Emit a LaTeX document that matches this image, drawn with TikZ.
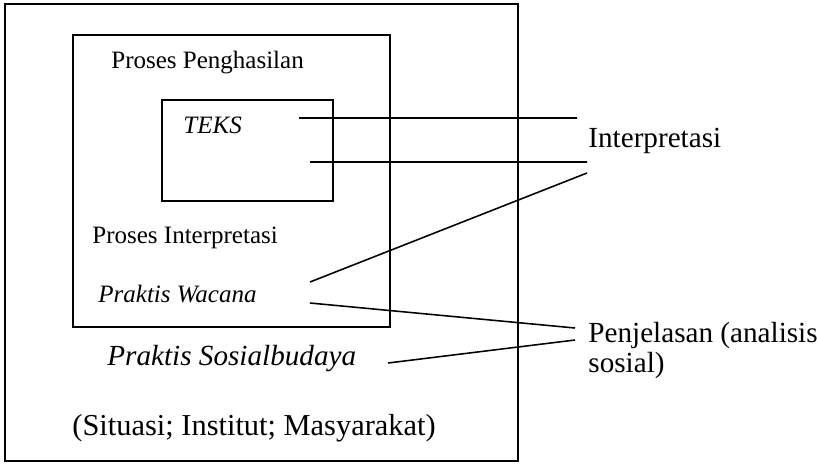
\documentclass[tikz,border=0pt]{standalone}
\usepackage{fontspec}
\setmainfont{Liberation Serif}
\usetikzlibrary{positioning}
\newcommand{\boxwidth}{0.9pt}
\tikzset{
  lbl/.style={anchor=base west, inner sep=0pt, font=\fontsize{12}{14}\selectfont},
  biglbl/.style={anchor=base west, inner sep=0pt, font=\fontsize{14}{15}\selectfont},
  frame/.style={draw, line width=\boxwidth},
  link/.style={line width=0.75pt}
}
\begin{document}
\begin{tikzpicture}[x=0.48pt,y=-0.48pt]

        \useasboundingbox (0,0) rectangle (817,463);

          % boxes
        \draw[frame] (5,4) rectangle (518,461);
        \draw[frame] (73,35) rectangle (390,327);
        \draw[frame] (162,100) rectangle (333,201);

          % texts in the boxes
        \node (penghasilan) at (111,68) [lbl] {Proses Penghasilan};
        \node (teks) at (183,133) [lbl] {\itshape TEKS};
        \node (interp) at (92,243) [lbl] {Proses Interpretasi};
        \node (wacana) at (98,302) [lbl] {\itshape Praktis Wacana};
        \node (sosbud) at (107,365) [biglbl] {\itshape Praktis Sosialbudaya};
        \node (situasi) at (72,435) [biglbl, font=\fontsize{14.6}{16}\selectfont] {(Situasi; Institut; Masyarakat)};

          % texts on the right
        \node (interpretasi) at (588,147) [biglbl] {Interpretasi};
        \node (penjelasan) at (588,342) [biglbl] {Penjelasan (analisis};
        \node (sosial) at (588,372) [biglbl] {sosial)};

          % free ends of the links
        \coordinate (t1) at (299,118);
        \coordinate (t2) at (310,162);
        \coordinate (w1) at (310,282);
        \coordinate (w2) at (310,303);
        \coordinate (s1) at (388,363);
        \coordinate (i1) at (577,118);
        \coordinate (i2) at (587,162);
        \coordinate (i3) at (587,173);
        \coordinate (p1) at (575,328);
        \coordinate (p2) at (575,340);

        \draw[link] (t1) to (i1)
        (t2) to (i2)
        (w1) to (i3)
        (w2) to (p1)
        (s1) to (p2);

        \end{tikzpicture}
\end{document}
